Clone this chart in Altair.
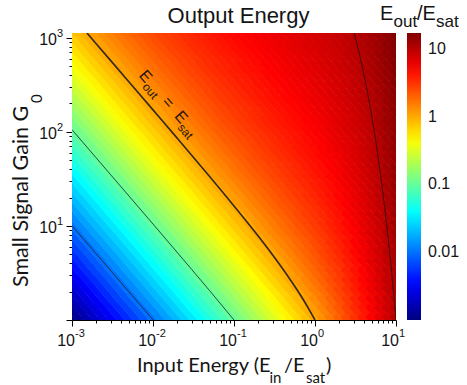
import altair as alt
import pandas as pd

# ---------------------------------------------------------------------------
# Output energy surface: log10(E_out/E_sat) on a grid of
# log10(E_in/E_sat) (columns) and log10(G0) (rows, bottom to top)
# ---------------------------------------------------------------------------
E_IN_EXP = [-3.0, -2.9, -2.8, -2.7, -2.6, -2.5, -2.4, -2.3, -2.2, -2.1,
            -2.0, -1.9, -1.8, -1.7, -1.6, -1.5, -1.4, -1.3, -1.2, -1.1,
            -1.0, -0.9, -0.8, -0.7, -0.6, -0.5, -0.4, -0.3, -0.2, -0.1,
            0.0, 0.1, 0.2, 0.3, 0.4, 0.5, 0.6, 0.7, 0.8, 0.9, 1.0]

GAIN_EXP = [0.0, 0.1, 0.2, 0.3, 0.4, 0.5, 0.6, 0.7, 0.8, 0.9,
            1.0, 1.1, 1.2, 1.3, 1.4, 1.5, 1.6, 1.7, 1.8, 1.9,
            2.0, 2.1, 2.2, 2.3, 2.4, 2.5, 2.6, 2.7, 2.8, 2.9, 3.0, 3.1]

LOG_OUT = [
    [-3.00, -2.90, -2.80, -2.70, -2.60, -2.50, -2.40, -2.30, -2.20, -2.10, -2.00, -1.90, -1.80, -1.70, -1.61, -1.51, -1.41, -1.31, -1.21, -1.12, -1.02, -0.93, -0.83, -0.74, -0.65, -0.56, -0.47, -0.39, -0.31, -0.23, -0.16, -0.09],
    [-2.90, -2.80, -2.70, -2.60, -2.50, -2.40, -2.30, -2.20, -2.10, -2.00, -1.90, -1.80, -1.70, -1.61, -1.51, -1.41, -1.31, -1.21, -1.12, -1.02, -0.93, -0.83, -0.74, -0.65, -0.56, -0.47, -0.39, -0.31, -0.23, -0.16, -0.09, -0.02],
    [-2.80, -2.70, -2.60, -2.50, -2.40, -2.30, -2.20, -2.10, -2.00, -1.90, -1.80, -1.70, -1.61, -1.51, -1.41, -1.31, -1.21, -1.12, -1.02, -0.93, -0.83, -0.74, -0.65, -0.56, -0.47, -0.39, -0.31, -0.23, -0.16, -0.09, -0.02, 0.04],
    [-2.70, -2.60, -2.50, -2.40, -2.30, -2.20, -2.10, -2.00, -1.90, -1.80, -1.70, -1.61, -1.51, -1.41, -1.31, -1.21, -1.12, -1.02, -0.93, -0.83, -0.74, -0.65, -0.56, -0.47, -0.39, -0.31, -0.23, -0.16, -0.09, -0.02, 0.04, 0.10],
    [-2.60, -2.50, -2.40, -2.30, -2.20, -2.10, -2.00, -1.90, -1.80, -1.70, -1.61, -1.51, -1.41, -1.31, -1.21, -1.12, -1.02, -0.93, -0.83, -0.74, -0.65, -0.56, -0.47, -0.39, -0.31, -0.23, -0.16, -0.09, -0.02, 0.04, 0.10, 0.15],
    [-2.50, -2.40, -2.30, -2.20, -2.10, -2.00, -1.90, -1.80, -1.70, -1.61, -1.51, -1.41, -1.31, -1.21, -1.12, -1.02, -0.93, -0.83, -0.74, -0.65, -0.56, -0.47, -0.39, -0.31, -0.23, -0.16, -0.09, -0.02, 0.04, 0.10, 0.15, 0.21],
    [-2.40, -2.30, -2.20, -2.10, -2.00, -1.90, -1.80, -1.70, -1.61, -1.51, -1.41, -1.31, -1.21, -1.12, -1.02, -0.93, -0.83, -0.74, -0.65, -0.56, -0.47, -0.39, -0.31, -0.23, -0.16, -0.09, -0.02, 0.04, 0.10, 0.15, 0.21, 0.25],
    [-2.30, -2.20, -2.10, -2.00, -1.90, -1.80, -1.70, -1.61, -1.51, -1.41, -1.31, -1.21, -1.12, -1.02, -0.93, -0.83, -0.74, -0.65, -0.56, -0.47, -0.39, -0.31, -0.23, -0.16, -0.09, -0.02, 0.04, 0.10, 0.15, 0.21, 0.25, 0.30],
    [-2.20, -2.10, -2.00, -1.90, -1.80, -1.70, -1.61, -1.51, -1.41, -1.31, -1.21, -1.12, -1.02, -0.93, -0.83, -0.74, -0.65, -0.56, -0.47, -0.39, -0.31, -0.23, -0.16, -0.09, -0.02, 0.04, 0.10, 0.15, 0.21, 0.25, 0.30, 0.34],
    [-2.10, -2.00, -1.90, -1.80, -1.70, -1.61, -1.51, -1.41, -1.31, -1.21, -1.12, -1.02, -0.93, -0.83, -0.74, -0.65, -0.56, -0.47, -0.39, -0.31, -0.23, -0.16, -0.09, -0.02, 0.04, 0.10, 0.15, 0.21, 0.25, 0.30, 0.34, 0.38],
    [-2.00, -1.90, -1.80, -1.70, -1.61, -1.51, -1.41, -1.31, -1.21, -1.12, -1.02, -0.93, -0.83, -0.74, -0.65, -0.56, -0.47, -0.39, -0.31, -0.23, -0.16, -0.09, -0.02, 0.04, 0.10, 0.15, 0.21, 0.25, 0.30, 0.34, 0.38, 0.42],
    [-1.90, -1.80, -1.70, -1.61, -1.51, -1.41, -1.31, -1.21, -1.12, -1.02, -0.93, -0.83, -0.74, -0.65, -0.56, -0.47, -0.39, -0.31, -0.23, -0.16, -0.09, -0.02, 0.04, 0.10, 0.15, 0.21, 0.25, 0.30, 0.34, 0.38, 0.42, 0.45],
    [-1.80, -1.70, -1.61, -1.51, -1.41, -1.31, -1.21, -1.12, -1.02, -0.93, -0.83, -0.74, -0.65, -0.56, -0.47, -0.39, -0.31, -0.23, -0.16, -0.09, -0.02, 0.04, 0.10, 0.15, 0.21, 0.25, 0.30, 0.34, 0.38, 0.42, 0.45, 0.48],
    [-1.70, -1.60, -1.50, -1.41, -1.31, -1.21, -1.12, -1.02, -0.93, -0.83, -0.74, -0.65, -0.56, -0.47, -0.39, -0.31, -0.23, -0.16, -0.09, -0.02, 0.04, 0.10, 0.15, 0.21, 0.25, 0.30, 0.34, 0.38, 0.42, 0.45, 0.48, 0.51],
    [-1.60, -1.50, -1.40, -1.31, -1.21, -1.11, -1.02, -0.92, -0.83, -0.73, -0.65, -0.56, -0.47, -0.39, -0.31, -0.23, -0.16, -0.09, -0.02, 0.04, 0.10, 0.15, 0.21, 0.25, 0.30, 0.34, 0.38, 0.42, 0.45, 0.48, 0.51, 0.54],
    [-1.50, -1.40, -1.30, -1.21, -1.11, -1.01, -0.92, -0.83, -0.73, -0.64, -0.55, -0.47, -0.38, -0.31, -0.23, -0.15, -0.08, -0.02, 0.04, 0.10, 0.16, 0.21, 0.26, 0.30, 0.34, 0.38, 0.42, 0.45, 0.48, 0.52, 0.54, 0.57],
    [-1.40, -1.30, -1.20, -1.11, -1.01, -0.92, -0.82, -0.73, -0.64, -0.55, -0.47, -0.38, -0.30, -0.23, -0.15, -0.08, -0.02, 0.04, 0.10, 0.16, 0.21, 0.26, 0.30, 0.34, 0.38, 0.42, 0.45, 0.49, 0.52, 0.54, 0.57, 0.60],
    [-1.30, -1.20, -1.11, -1.01, -0.92, -0.82, -0.73, -0.64, -0.55, -0.47, -0.38, -0.30, -0.22, -0.15, -0.08, -0.02, 0.05, 0.11, 0.16, 0.21, 0.26, 0.30, 0.35, 0.38, 0.42, 0.45, 0.49, 0.52, 0.54, 0.57, 0.60, 0.62],
    [-1.20, -1.10, -1.01, -0.91, -0.82, -0.73, -0.64, -0.55, -0.46, -0.38, -0.30, -0.22, -0.15, -0.08, -0.01, 0.05, 0.11, 0.16, 0.21, 0.26, 0.31, 0.35, 0.39, 0.42, 0.46, 0.49, 0.52, 0.55, 0.57, 0.60, 0.62, 0.64],
    [-1.10, -1.00, -0.91, -0.82, -0.72, -0.63, -0.55, -0.46, -0.38, -0.30, -0.22, -0.15, -0.08, -0.01, 0.05, 0.11, 0.16, 0.21, 0.26, 0.31, 0.35, 0.39, 0.42, 0.46, 0.49, 0.52, 0.55, 0.57, 0.60, 0.62, 0.65, 0.67],
    [-1.00, -0.90, -0.81, -0.72, -0.63, -0.54, -0.46, -0.37, -0.29, -0.22, -0.14, -0.07, -0.01, 0.05, 0.11, 0.17, 0.22, 0.26, 0.31, 0.35, 0.39, 0.42, 0.46, 0.49, 0.52, 0.55, 0.58, 0.60, 0.62, 0.65, 0.67, 0.69],
    [-0.90, -0.81, -0.71, -0.62, -0.54, -0.45, -0.37, -0.29, -0.21, -0.14, -0.07, -0.01, 0.06, 0.11, 0.17, 0.22, 0.27, 0.31, 0.35, 0.39, 0.43, 0.46, 0.49, 0.52, 0.55, 0.58, 0.60, 0.63, 0.65, 0.67, 0.69, 0.71],
    [-0.80, -0.71, -0.62, -0.53, -0.45, -0.36, -0.28, -0.21, -0.13, -0.07, 0.00, 0.06, 0.12, 0.17, 0.22, 0.27, 0.31, 0.36, 0.39, 0.43, 0.46, 0.49, 0.52, 0.55, 0.58, 0.60, 0.63, 0.65, 0.67, 0.69, 0.71, 0.73],
    [-0.70, -0.61, -0.52, -0.44, -0.36, -0.28, -0.20, -0.13, -0.06, 0.01, 0.07, 0.12, 0.18, 0.23, 0.27, 0.32, 0.36, 0.40, 0.43, 0.47, 0.50, 0.53, 0.55, 0.58, 0.61, 0.63, 0.65, 0.67, 0.69, 0.71, 0.73, 0.75],
    [-0.60, -0.51, -0.43, -0.35, -0.27, -0.19, -0.12, -0.05, 0.01, 0.07, 0.13, 0.18, 0.23, 0.28, 0.32, 0.36, 0.40, 0.44, 0.47, 0.50, 0.53, 0.56, 0.58, 0.61, 0.63, 0.65, 0.68, 0.70, 0.72, 0.74, 0.75, 0.77],
    [-0.50, -0.42, -0.33, -0.26, -0.18, -0.11, -0.04, 0.02, 0.08, 0.14, 0.19, 0.24, 0.29, 0.33, 0.37, 0.41, 0.44, 0.47, 0.51, 0.53, 0.56, 0.59, 0.61, 0.64, 0.66, 0.68, 0.70, 0.72, 0.74, 0.76, 0.77, 0.79],
    [-0.40, -0.32, -0.24, -0.17, -0.10, -0.03, 0.03, 0.09, 0.15, 0.20, 0.25, 0.29, 0.34, 0.38, 0.41, 0.45, 0.48, 0.51, 0.54, 0.57, 0.59, 0.62, 0.64, 0.66, 0.68, 0.70, 0.72, 0.74, 0.76, 0.77, 0.79, 0.81],
    [-0.30, -0.22, -0.15, -0.08, -0.01, 0.05, 0.11, 0.16, 0.21, 0.26, 0.30, 0.35, 0.38, 0.42, 0.46, 0.49, 0.52, 0.55, 0.57, 0.60, 0.62, 0.64, 0.67, 0.69, 0.71, 0.73, 0.75, 0.76, 0.78, 0.80, 0.81, 0.83],
    [-0.20, -0.13, -0.06, 0.01, 0.07, 0.12, 0.18, 0.23, 0.27, 0.32, 0.36, 0.40, 0.43, 0.47, 0.50, 0.53, 0.55, 0.58, 0.61, 0.63, 0.65, 0.67, 0.69, 0.71, 0.73, 0.75, 0.77, 0.78, 0.80, 0.82, 0.83, 0.85],
    [-0.10, -0.03, 0.03, 0.09, 0.15, 0.20, 0.25, 0.29, 0.33, 0.37, 0.41, 0.45, 0.48, 0.51, 0.54, 0.56, 0.59, 0.62, 0.64, 0.66, 0.68, 0.70, 0.72, 0.74, 0.76, 0.77, 0.79, 0.81, 0.82, 0.84, 0.85, 0.86],
    [0.00, 0.06, 0.12, 0.17, 0.22, 0.27, 0.31, 0.35, 0.39, 0.43, 0.46, 0.49, 0.52, 0.55, 0.58, 0.60, 0.63, 0.65, 0.67, 0.69, 0.71, 0.73, 0.75, 0.77, 0.78, 0.80, 0.82, 0.83, 0.84, 0.86, 0.87, 0.89],
    [0.10, 0.15, 0.21, 0.25, 0.30, 0.34, 0.38, 0.42, 0.45, 0.48, 0.51, 0.54, 0.57, 0.60, 0.62, 0.64, 0.66, 0.69, 0.71, 0.72, 0.74, 0.76, 0.78, 0.79, 0.81, 0.82, 0.84, 0.85, 0.87, 0.88, 0.89, 0.91],
    [0.20, 0.25, 0.29, 0.34, 0.38, 0.41, 0.45, 0.48, 0.51, 0.54, 0.57, 0.59, 0.62, 0.64, 0.66, 0.68, 0.70, 0.72, 0.74, 0.76, 0.78, 0.79, 0.81, 0.82, 0.84, 0.85, 0.87, 0.88, 0.89, 0.90, 0.92, 0.93],
    [0.30, 0.34, 0.38, 0.42, 0.45, 0.48, 0.51, 0.54, 0.57, 0.60, 0.62, 0.64, 0.66, 0.69, 0.71, 0.73, 0.74, 0.76, 0.78, 0.80, 0.81, 0.83, 0.84, 0.85, 0.87, 0.88, 0.89, 0.91, 0.92, 0.93, 0.94, 0.95],
    [0.40, 0.44, 0.47, 0.50, 0.53, 0.56, 0.58, 0.61, 0.63, 0.65, 0.68, 0.70, 0.72, 0.73, 0.75, 0.77, 0.79, 0.80, 0.82, 0.83, 0.85, 0.86, 0.87, 0.89, 0.90, 0.91, 0.92, 0.94, 0.95, 0.96, 0.97, 0.98],
    [0.50, 0.53, 0.56, 0.58, 0.61, 0.63, 0.65, 0.68, 0.70, 0.72, 0.73, 0.75, 0.77, 0.79, 0.80, 0.82, 0.83, 0.85, 0.86, 0.87, 0.89, 0.90, 0.91, 0.93, 0.94, 0.95, 0.96, 0.97, 0.98, 0.99, 1.00, 1.01],
    [0.60, 0.62, 0.65, 0.67, 0.69, 0.71, 0.73, 0.75, 0.76, 0.78, 0.80, 0.81, 0.83, 0.84, 0.86, 0.87, 0.88, 0.90, 0.91, 0.92, 0.93, 0.94, 0.96, 0.97, 0.98, 0.99, 1.00, 1.01, 1.02, 1.03, 1.04, 1.05],
    [0.70, 0.72, 0.74, 0.76, 0.77, 0.79, 0.81, 0.82, 0.84, 0.85, 0.86, 0.88, 0.89, 0.90, 0.92, 0.93, 0.94, 0.95, 0.96, 0.97, 0.98, 0.99, 1.00, 1.01, 1.02, 1.03, 1.04, 1.05, 1.06, 1.07, 1.08, 1.08],
    [0.80, 0.82, 0.83, 0.84, 0.86, 0.87, 0.89, 0.90, 0.91, 0.92, 0.93, 0.95, 0.96, 0.97, 0.98, 0.99, 1.00, 1.01, 1.02, 1.03, 1.04, 1.05, 1.06, 1.06, 1.07, 1.08, 1.09, 1.10, 1.11, 1.11, 1.12, 1.13],
    [0.90, 0.91, 0.92, 0.94, 0.95, 0.96, 0.97, 0.98, 0.99, 1.00, 1.01, 1.02, 1.03, 1.04, 1.05, 1.06, 1.07, 1.07, 1.08, 1.09, 1.10, 1.11, 1.11, 1.12, 1.13, 1.14, 1.14, 1.15, 1.16, 1.17, 1.17, 1.18],
    [1.00, 1.01, 1.02, 1.03, 1.04, 1.05, 1.06, 1.07, 1.07, 1.08, 1.09, 1.10, 1.11, 1.11, 1.12, 1.13, 1.14, 1.14, 1.15, 1.16, 1.16, 1.17, 1.18, 1.18, 1.19, 1.20, 1.20, 1.21, 1.22, 1.22, 1.23, 1.23],
]

# Contour lines (E_in/E_sat, G0) for E_out/E_sat = 0.01, 0.1, 1, 10
C001_EIN = [0.001, 0.00316, 0.01005]
C001_G = [10.05, 3.18, 1.0]
C01_EIN = [0.001, 0.003, 0.01, 0.03, 0.05, 0.1]
C01_G = [105.2, 35.0, 10.47, 3.45, 2.05, 1.0]
C1_EIN = [0.00153, 0.002, 0.005, 0.01, 0.02, 0.05, 0.1, 0.2, 0.3, 0.5, 0.7, 0.85, 1.0]
C1_G = [1122, 858, 343, 171, 85.1, 33.5, 16.3, 7.76, 4.91, 2.65, 1.70, 1.28, 1.0]
C10_EIN = [3.03, 3.81, 4.71, 5.40, 6.09, 7.00, 7.70, 8.39, 9.31, 10.0]
C10_G = [1122, 500, 200, 100, 50, 20, 10, 5, 2, 1]

# Colour-bar level marks, log10(E_out/E_sat)
CBAR_LEVELS = [-2, -1, 0, 1]

# Major tick labels
X_MAJOR = [0.001, 0.01, 0.1, 1, 10]
X_EXP = ["-3", "-2", "-1", "0", "1"]
Y_MAJOR = [10, 100, 1000]
Y_EXP = ["1", "2", "3"]

# Point on the E_out = E_sat contour where its label sits
LABEL_AT_EIN = [0.005]
LABEL_AT_G = [343]

# ---------------------------------------------------------------------------
W, H = 324, 287
X_DOMAIN = [0.001, 10]
Y_DOMAIN = [1, 1122]
C_DOMAIN = [-3.0, 1.231]
JET_POS = [-3.0, -2.471, -1.413, -0.356, 0.702, 1.231]
JET_COL = ["#000080", "#0000ff", "#00ffff", "#ffff00", "#ff0000", "#800000"]

# Each grid sample is drawn as a slanted tile laid along the iso-energy
# direction; the tiles of all samples interlock to cover the plane.
TILE = "M0.81,0.31L0.27,0.94L-0.81,-0.31L-0.27,-0.94Z"
TILE_SIZE = 256

TXT = "#141414"
SANS = "Liberation Sans"
TITLE_FONT = "Lato"

rows = []
for u, col in zip(E_IN_EXP, LOG_OUT):
    assert len(col) == len(GAIN_EXP)
    for v, w in zip(GAIN_EXP, col):
        rows.append({"ein": 10 ** u, "g": 10 ** v, "w": w})
surface = pd.DataFrame(rows)

xs = alt.Scale(type="log", domain=X_DOMAIN, nice=False)
ys = alt.Scale(type="log", domain=Y_DOMAIN, nice=False)
cs = alt.Scale(type="linear", domain=JET_POS, range=JET_COL, interpolate="rgb")

major_test = "abs(log(datum.value)/LN10 - round(log(datum.value)/LN10)) < 0.000001"
tick_len = {"condition": {"test": major_test, "value": 6}, "value": 3}

x_ticks = [m * 10.0 ** k for k in range(-3, 1) for m in range(1, 10)] + [10.0]
y_ticks = [m * 10.0 ** k for k in range(0, 3) for m in range(1, 10)] + [1000.0]

x_axis = alt.Axis(values=x_ticks, labels=False, title=None, grid=False,
                  domainColor="black", tickColor="black", tickSize=tick_len,
                  domainWidth=1, tickWidth=1)
y_axis = alt.Axis(values=y_ticks, labels=False, title=None, grid=False,
                  domainColor="black", tickColor="black", tickSize=tick_len,
                  domainWidth=1, tickWidth=1)

legend = alt.Legend(type="gradient", orient="none", legendX=335, legendY=0,
                    direction="vertical", title=None, gradientLength=H,
                    gradientThickness=14, gradientStrokeWidth=0,
                    values=CBAR_LEVELS,
                    labelExpr="datum.value == -2 ? '0.01' : datum.value == -1 ? '0.1' : datum.value == 0 ? '1' : '10'",
                    labelFont=SANS, labelFontSize=16, labelColor=TXT,
                    labelOffset=7, padding=0, labelOverlap=False)

heat = alt.Chart(surface).mark_point(
    clip=True, filled=True, shape=TILE, size=TILE_SIZE, opacity=1, strokeWidth=0
).encode(
    x=alt.X("ein:Q", scale=xs, axis=x_axis),
    y=alt.Y("g:Q", scale=ys, axis=y_axis),
    color=alt.Color("w:Q", scale=cs, legend=legend),
)


def contour(ein, g, width, color):
    df = pd.DataFrame({"ein": ein, "g": g, "i": list(range(len(ein)))})
    return alt.Chart(df).mark_line(clip=True, strokeWidth=width, color=color,
                                   interpolate="monotone").encode(
        x=alt.X("ein:Q", scale=xs), y=alt.Y("g:Q", scale=ys), order="i:Q")


lines = [
    contour(C001_EIN, C001_G, 0.9, "#1f2a3a"),
    contour(C01_EIN, C01_G, 0.9, "#253a2a"),
    contour(C1_EIN, C1_G, 1.7, "#3a2a1c"),
    contour(C10_EIN, C10_G, 0.9, "#3a0a0a"),
]

# Tick labels: "10" with a raised exponent
xl = pd.DataFrame({"e": X_MAJOR, "p": X_EXP})
yl = pd.DataFrame({"g": Y_MAJOR, "p": Y_EXP})
x_base = alt.Chart(xl).mark_text(text="10", align="right", baseline="alphabetic",
                                 dx=3, font=SANS, fontSize=16, color=TXT).encode(
    x=alt.X("e:Q", scale=xs), y=alt.value(H + 26))
x_pow = alt.Chart(xl).mark_text(align="left", baseline="alphabetic", dx=3,
                                font=SANS, fontSize=11, color=TXT).encode(
    x=alt.X("e:Q", scale=xs), y=alt.value(H + 17), text="p:N")
y_base = alt.Chart(yl).mark_text(text="10", align="right", baseline="alphabetic",
                                 dy=7, font=SANS, fontSize=16, color=TXT).encode(
    x=alt.value(-15), y=alt.Y("g:Q", scale=ys))
y_pow = alt.Chart(yl).mark_text(align="left", baseline="alphabetic", dy=-1,
                                font=SANS, fontSize=11, color=TXT).encode(
    x=alt.value(-15), y=alt.Y("g:Q", scale=ys), text="p:N")

# "E_out = E_sat" along the unity contour
lab = pd.DataFrame({"ein": LABEL_AT_EIN, "g": LABEL_AT_G})


def along(s, size, dx, dy):
    return alt.Chart(lab).mark_text(text=s, align="left", baseline="alphabetic",
                                    angle=49, dx=dx, dy=dy, font=SANS,
                                    fontSize=size, color="#1e1510").encode(
        x=alt.X("ein:Q", scale=xs), y=alt.Y("g:Q", scale=ys))


label = [along("E", 16, 2, -11), along("out", 12, 13, -6), along("=", 16, 37, -11),
         along("E", 16, 56, -11), along("sat", 12, 67, -6)]

one = alt.Data(values=[{}])


def note(s, x, y, size, font, align="left", angle=0, dx=0, dy=0):
    kw = dict(text=s, align=align, baseline="alphabetic", font=font,
              fontSize=size, color=TXT, dx=dx, dy=dy)
    if angle:
        kw["angle"] = angle
    return alt.Chart(one).mark_text(**kw).encode(x=alt.value(x), y=alt.value(y))


texts = [
    note("Output Energy", 166.5, -10, 22, SANS, align="center"),
    # colour-bar title E_out/E_sat
    note("E", 308, -13, 20, SANS),
    note("out", 321.5, -6, 17, SANS),
    note("/E", 345, -13, 20, SANS),
    note("sat", 364, -6, 17, SANS),
    # x title Input Energy (E_in/E_sat)
    note("Input Energy (E", 65, 339, 20, TITLE_FONT),
    note("in", 197.5, 350, 15, TITLE_FONT),
    note("/E", 212, 339, 20, TITLE_FONT),
    note("sat", 234, 350, 15, TITLE_FONT),
    note(")", 254, 339, 20, TITLE_FONT),
    # y title Small Signal Gain G_0
    note("Small Signal Gain G", -44, 254, 21.5, TITLE_FONT, angle=270),
    note("0", -44, 254, 15, TITLE_FONT, angle=270, dx=184, dy=14),
]

cbar_marks = alt.Chart(pd.DataFrame({"lvl": CBAR_LEVELS})).mark_rule(
    color="#2a2a2a", strokeWidth=0.8, opacity=0.7).encode(
    y=alt.Y("lvl:Q", scale=alt.Scale(domain=C_DOMAIN, nice=False, zero=False), axis=None),
    x=alt.value(335), x2=alt.value(349))

main = alt.layer(heat, *lines, *label, x_base, x_pow, y_base, y_pow, *texts)

chart = alt.layer(main, cbar_marks).resolve_scale(y="independent").properties(
    width=W, height=H,
    autosize=alt.AutoSizeParams(type="none"),
    padding={"left": 72, "top": 33, "right": 71, "bottom": 65},
    background="white",
).configure_view(strokeWidth=0)

chart.save("out.html", embed_options={"renderer": "svg", "actions": False})
